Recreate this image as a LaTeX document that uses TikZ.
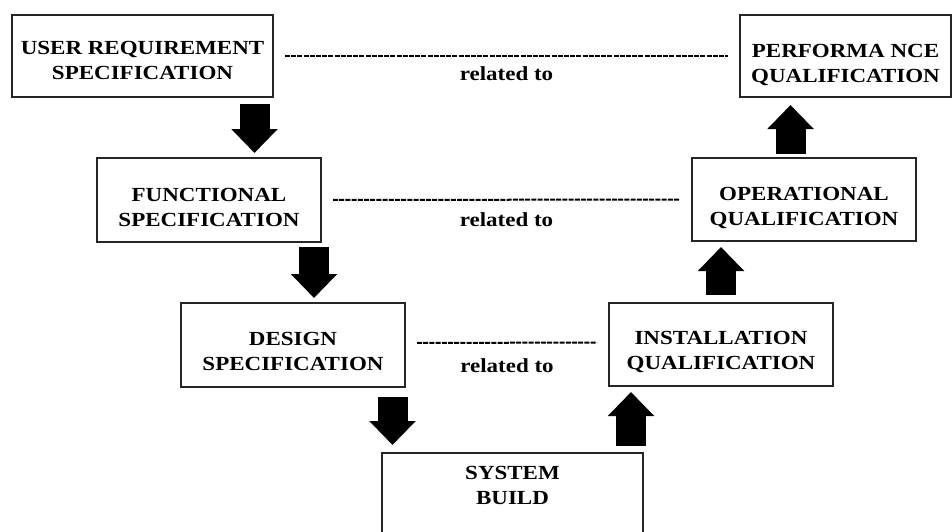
\documentclass[tikz,border=0pt]{standalone}
\usepackage{fontspec}
\setmainfont{Liberation Serif}[FakeStretch=1.15]
\usepackage{tikz}
\usetikzlibrary{arrows.meta,positioning}
\tikzstyle{specbox} = [draw=black!85, line width=1.3pt, rectangle, inner sep=0pt, outer sep=0pt, align=center, font=\bfseries\fontsize{20}{25}\selectfont, text height=51pt, text depth=0pt]
\tikzstyle{reltext} = [font=\bfseries\fontsize{20}{25}\selectfont]
\tikzstyle{relline} = [line width=2pt, dash pattern=on 5pt off 1.2pt, shorten <=12pt, shorten >=12pt]
\tikzstyle{bigarrow} = [line width=30pt, -{Triangle[width=45pt,length=24pt]}]

\begin{document}
\begin{tikzpicture}[x=1pt,y=-1pt]
\useasboundingbox (0,0) rectangle (952,532);
% left side of the V
\node [specbox, minimum width=261pt, minimum height=82pt, text height=48pt] (urs) at (142.5,56) {USER REQUIREMENT\\SPECIFICATION};
\node [specbox, minimum width=224pt, minimum height=84pt, text height=53pt] (fs) at (209,200) {FUNCTIONAL\\SPECIFICATION};
\node [specbox, minimum width=224pt, minimum height=84pt] (ds) at (293,345) {DESIGN\\SPECIFICATION};
% bottom
\node [specbox, minimum width=261pt, minimum height=100pt, anchor=north] (sb) at (512.5,453) {};
\node [reltext, align=center, below=10pt of sb.north] (sbtext) {SYSTEM\\BUILD};
% right side of the V
\node [specbox, minimum width=224pt, minimum height=83pt, text height=50pt] (iq) at (721,344.5) {INSTALLATION\\QUALIFICATION};
\node [specbox, minimum width=224pt, minimum height=83pt, text height=52pt] (oq) at (804,199.5) {OPERATIONAL\\QUALIFICATION};
\node [specbox, minimum width=211pt, minimum height=82pt, text height=54pt] (pq) at (845.5,56) {PERFORMA NCE\\QUALIFICATION};

% related to
\draw [relline] (urs) -- (pq) node [reltext, midway, yshift=-18pt] {related to};
\draw [relline] (fs) -- (oq) node [reltext, midway, yshift=-20pt] {related to};
\draw [relline] ([yshift=2pt]ds.east) -- ([yshift=2pt]iq.west) node [reltext, midway, yshift=-23pt] {related to};

% block arrows
\coordinate (a1) at (254.5,104);
\coordinate (a2) at (314,247);
\coordinate (a3) at (392.5,397);
\coordinate (a4) at (631,446);
\coordinate (a5) at (721,295);
\coordinate (a6) at (790.5,154);
\draw [bigarrow, shorten >=5pt] (a1) -- (a1 |- fs.north);
\draw [bigarrow, shorten >=5pt] (a2) -- (a2 |- ds.north);
\draw [bigarrow, shorten >=8pt] (a3) -- (a3 |- sb.north);
\draw [bigarrow, shorten >=6pt] (a4) -- (a4 |- iq.south);
\draw [bigarrow, shorten >=6pt] (a5) -- (a5 |- oq.south);
\draw [bigarrow, shorten >=8pt] (a6) -- (a6 |- pq.south);
\end{tikzpicture}
\end{document}
